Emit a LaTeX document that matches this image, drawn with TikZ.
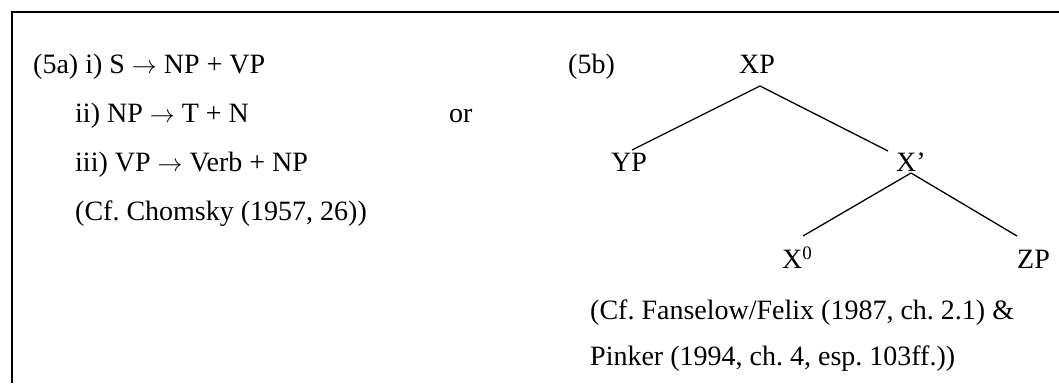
\documentclass[tikz,border=0pt]{standalone}
\usepackage{fontspec}
\setmainfont{Liberation Serif}
\frenchspacing
\newcommand{\rarr}{\ensuremath{\rightarrow}}
\begin{document}
\begin{tikzpicture}[x=1pt,y=-1pt,
  txt/.style={anchor=base west, inner sep=0pt, font=\fontsize{28}{34}\selectfont},
  branch/.style={line width=1.3pt},
  frame/.style={line width=2pt}]
\useasboundingbox (0,0) rectangle (1059,383);
\draw[frame] (12,383) -- (12,12) -- (1059,12);
% left column
\node[txt] (l1) at (33,73) {(5a) i) S \rarr{} NP + VP};
\node[txt] (l2) at (75,122) {ii) NP \rarr{} T + N};
\node[txt] (l3) at (75,171) {iii) VP \rarr{} Verb + NP};
\node[txt] (l4) at (75,220) {(Cf. Chomsky (1957, 26))};
\node[txt] (or) at (449,122) {or};
% tree
\node[txt] (b5) at (568,73) {(5b)};
\node[txt] (XP) at (739,73) {XP};
\node[txt] (YP) at (611,171) {YP};
\node[txt] (Xb) at (896,171) {X’};
\node[txt] (X0) at (782,268) {X\raisebox{9pt}{\fontsize{19}{19}\selectfont 0}};
\node[txt] (ZP) at (1017,268) {ZP};
\draw[branch] ([xshift=21pt,yshift=-13pt]XP.base west) -- ([xshift=21pt,yshift=21pt]YP.base west);
\draw[branch] ([xshift=21pt,yshift=-13pt]XP.base west) -- ([xshift=-8pt,yshift=20pt]Xb.base west);
\draw[branch] ([xshift=15pt,yshift=-2pt]Xb.base west) -- ([xshift=21pt,yshift=32pt]X0.base west);
\draw[branch] ([xshift=15pt,yshift=-2pt]Xb.base west) -- ([yshift=32pt]ZP.base west);
% citations
\node[txt] (c1) at (590,319) {(Cf. Fanselow/Felix (1987, ch. 2.1) \&};
\node[txt] (c2) at (590,365) {Pinker (1994, ch. 4, esp. 103ff.))};
\end{tikzpicture}
\end{document}
